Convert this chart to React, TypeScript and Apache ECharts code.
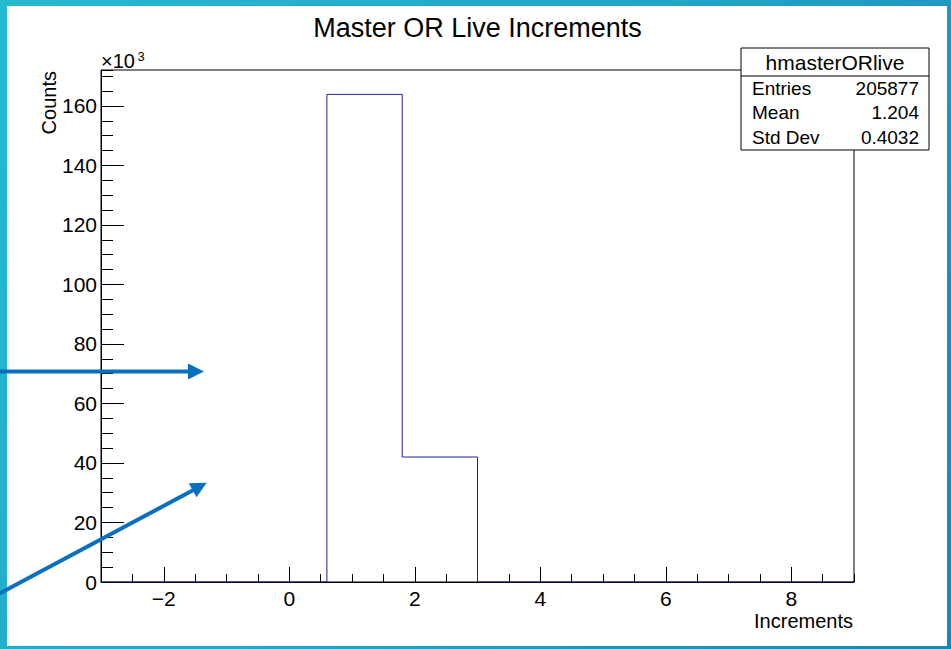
import React, { useEffect, useRef } from "react";
import * as echarts from "echarts";

// ---- data ----
const binEdges = [-3, -1.8, -0.6, 0.6, 1.8, 3.0, 4.2, 5.4, 6.6, 7.8, 9];
const counts = [0, 0, 0, 163877, 42000, 0, 0, 0, 0, 0];
const xMajorTicks = [-2, 0, 2, 4, 6, 8];
const yMajorTicks = [0, 20000, 40000, 60000, 80000, 100000, 120000, 140000, 160000];
const statsTitle = "hmasterORlive";
const statsLabels = ["Entries", "Mean", "Std Dev"];
const statsValues = ["205877", "1.204", "0.4032"];
const chartTitle = "Master OR Live Increments";
const xTitle = "Increments";
const yTitle = "Counts";

const FONT = "'Liberation Sans', Arial, Helvetica, sans-serif";
const ARROW = "#0b6fbf";
const HIST = "#2020a0";

export default function App() {
  const ref = useRef<HTMLDivElement>(null);

  useEffect(() => {
    if (!ref.current) return;
    const chart = echarts.init(ref.current, null, { renderer: "svg" });

    const stepPoints: number[][] = [];
    counts.forEach((c, i) => {
      stepPoints.push([binEdges[i], c]);
      stepPoints.push([binEdges[i + 1], c]);
    });
    const yMax = Math.max(...counts) * 1.05;
    const xMin = binEdges[0];
    const xMax = binEdges[binEdges.length - 1];

    const tickLabelStyle = { color: "#000", fontFamily: FONT, fontSize: 21, lineHeight: 18 };

    const statsRowsGraphic: any[] = [];
    statsLabels.forEach((lab, i) => {
      statsRowsGraphic.push({
        type: "text",
        x: 752,
        y: 88 + i * 24.5,
        z: 101,
        style: { text: lab, fill: "#000", font: `19px ${FONT}`, align: "left", verticalAlign: "middle" },
      });
      statsRowsGraphic.push({
        type: "text",
        x: 919,
        y: 88 + i * 24.5,
        z: 101,
        style: { text: statsValues[i], fill: "#000", font: `19px ${FONT}`, align: "right", verticalAlign: "middle" },
      });
    });

    chart.setOption({
      animation: false,
      backgroundColor: "transparent",
      grid: {
        left: 101,
        top: 70,
        right: 97,
        bottom: 67,
        show: true,
        borderColor: "#000",
        borderWidth: 1,
        backgroundColor: "transparent",
      },
      xAxis: [
        {
          type: "value",
          min: xMin,
          max: xMax,
          interval: 0.5,
          position: "bottom",
          offset: 0,
          axisLine: { show: true, onZero: false, lineStyle: { color: "#000", width: 1 } },
          axisTick: { show: true, inside: true, length: 8, lineStyle: { color: "#000", width: 1 } },
          axisLabel: { show: false },
          splitLine: { show: false },
        },
        {
          type: "value",
          min: xMin,
          max: xMax,
          position: "bottom",
          offset: 0,
          axisLine: { show: false, onZero: false },
          axisTick: {
            show: true,
            inside: true,
            length: 15,
            customValues: xMajorTicks,
            lineStyle: { color: "#000", width: 1 },
          },
          axisLabel: {
            show: true,
            customValues: xMajorTicks,
            margin: 7,
            ...tickLabelStyle,
            formatter: (v: number) => String(v).replace("-", "\u2212"),
          },
          splitLine: { show: false },
        },
      ],
      yAxis: [
        {
          type: "value",
          min: 0,
          max: yMax,
          interval: 5000,
          position: "left",
          offset: 0,
          axisLine: { show: true, onZero: false, lineStyle: { color: "#000", width: 1 } },
          axisTick: { show: true, inside: true, length: 12, lineStyle: { color: "#000", width: 1 } },
          axisLabel: { show: false },
          splitLine: { show: false },
        },
        {
          type: "value",
          min: 0,
          max: yMax,
          position: "left",
          offset: 0,
          axisLine: { show: false, onZero: false },
          axisTick: {
            show: true,
            inside: true,
            length: 23,
            customValues: yMajorTicks,
            lineStyle: { color: "#000", width: 1 },
          },
          axisLabel: {
            show: true,
            customValues: yMajorTicks,
            margin: 4,
            ...tickLabelStyle,
            formatter: (v: number) => String(Math.round(v / 1000)),
          },
          splitLine: { show: false },
        },
      ],
      series: [
        {
          type: "line",
          xAxisIndex: 0,
          yAxisIndex: 0,
          data: stepPoints,
          symbol: "none",
          lineStyle: { color: HIST, width: 1 },
          itemStyle: { color: HIST },
          z: 5,
        },
      ],
      graphic: [
        {
          type: "text",
          x: 477.5,
          y: 28,
          style: { text: chartTitle, fill: "#000", font: `27px ${FONT}`, align: "center", verticalAlign: "middle" },
        },
        {
          type: "text",
          x: 853,
          y: 620.5,
          style: {
            text: xTitle,
            fill: "#000",
            font: `20px ${FONT}`,
            lineHeight: 16,
            align: "right",
            verticalAlign: "middle",
          },
        },
        {
          type: "text",
          x: 49,
          y: 71,
          rotation: Math.PI / 2,
          style: { text: yTitle, fill: "#000", font: `20px ${FONT}`, align: "right", verticalAlign: "middle" },
        },
        {
          type: "text",
          x: 101,
          y: 61,
          style: { text: "\u00d710", fill: "#000", font: `20px ${FONT}`, align: "left", verticalAlign: "middle" },
        },
        {
          type: "text",
          x: 137.5,
          y: 56,
          style: { text: "3", fill: "#000", font: `13px ${FONT}`, align: "left", verticalAlign: "middle" },
        },
        {
          type: "rect",
          z: 100,
          shape: { x: 741, y: 48, width: 188, height: 102 },
          style: { fill: "#fff", stroke: "#000", lineWidth: 1 },
        },
        {
          type: "line",
          z: 101,
          shape: { x1: 741, y1: 76, x2: 929, y2: 76 },
          style: { stroke: "#000", lineWidth: 1 },
        },
        {
          type: "text",
          x: 835,
          y: 62.5,
          z: 101,
          style: { text: statsTitle, fill: "#000", font: `21px ${FONT}`, align: "center", verticalAlign: "middle" },
        },
        ...statsRowsGraphic,
        // arrows
        {
          type: "line",
          z: 110,
          shape: { x1: -2, y1: 371.5, x2: 190, y2: 371.5 },
          style: { stroke: ARROW, lineWidth: 4 },
        },
        {
          type: "polygon",
          z: 110,
          shape: { points: [[204, 371.5], [188, 363.5], [188, 379.5]] },
          style: { fill: ARROW },
        },
        {
          type: "line",
          z: 110,
          shape: { x1: -4, y1: 595.4, x2: 193, y2: 490.2 },
          style: { stroke: ARROW, lineWidth: 4 },
        },
        {
          type: "polygon",
          z: 110,
          shape: { points: [[206.7, 482.7], [196.5, 497.2], [188.7, 483.2]] },
          style: { fill: ARROW },
        },
      ],
    });

    return () => chart.dispose();
  }, []);

  return (
    <div
      style={{
        position: "fixed",
        left: 0,
        top: 0,
        width: 951,
        height: 649,
        background: "linear-gradient(120deg, #26bad0 0%, #21a6c8 50%, #1c86b2 100%)",
      }}
    >
      <div
        style={{
          position: "absolute",
          left: 7,
          top: 6,
          width: 940,
          height: 640,
          background: "#fff",
        }}
      />
      <div ref={ref} style={{ position: "absolute", left: 0, top: 0, width: 951, height: 649 }} />
    </div>
  );
}
